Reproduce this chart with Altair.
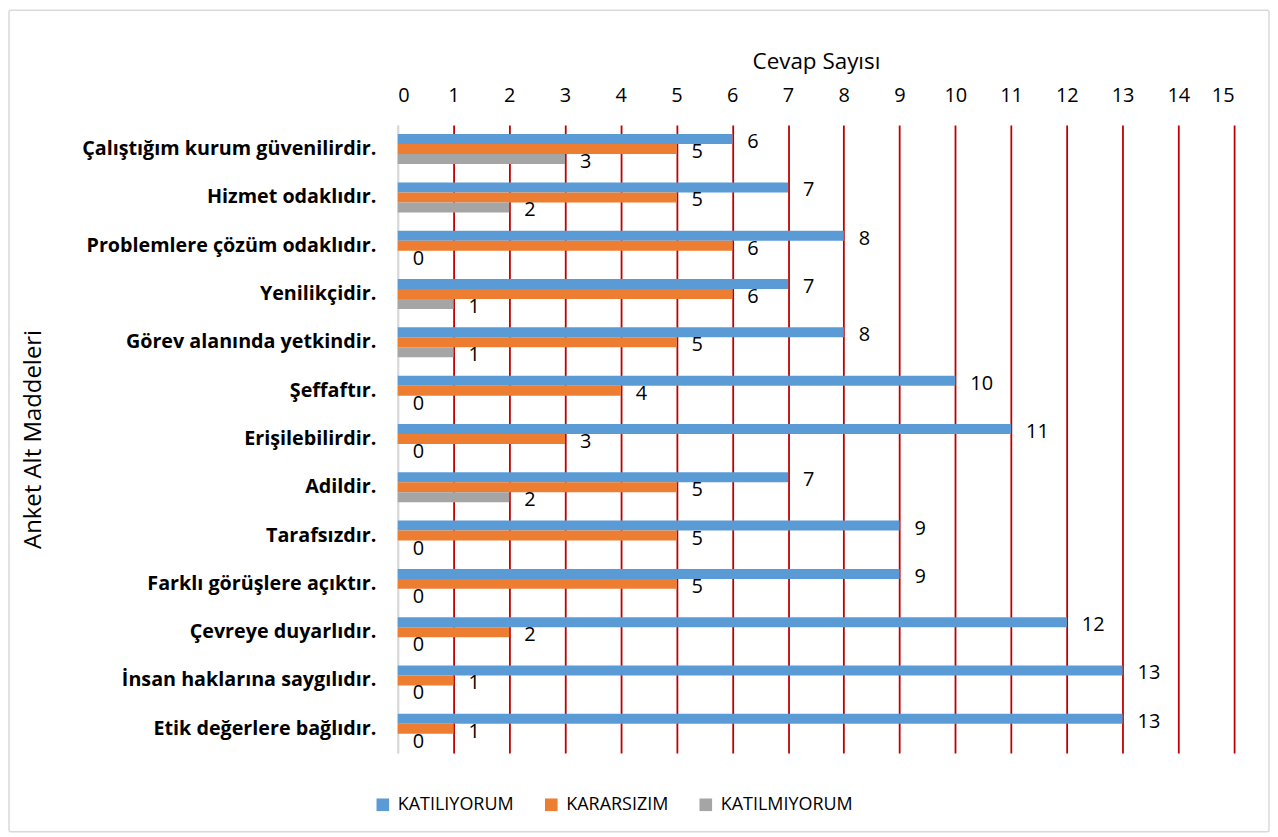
import altair as alt
import pandas as pd

categories = [
    "Çalıştığım kurum güvenilirdir.",
    "Hizmet odaklıdır.",
    "Problemlere çözüm odaklıdır.",
    "Yenilikçidir.",
    "Görev alanında yetkindir.",
    "Şeffaftır.",
    "Erişilebilirdir.",
    "Adildir.",
    "Tarafsızdır.",
    "Farklı görüşlere açıktır.",
    "Çevreye duyarlıdır.",
    "İnsan haklarına saygılıdır.",
    "Etik değerlere bağlıdır.",
]
katiliyorum = [6, 7, 8, 7, 8, 10, 11, 7, 9, 9, 12, 13, 13]
kararsizim = [5, 5, 6, 6, 5, 4, 3, 5, 5, 5, 2, 1, 1]
katilmiyorum = [3, 2, 0, 1, 1, 0, 0, 2, 0, 0, 0, 0, 0]
series = ["KATILIYORUM", "KARARSIZIM", "KATILMIYORUM"]
colors = ["#5B9BD5", "#ED7D31", "#A5A5A5"]

rows = []
for i, c in enumerate(categories):
    for s, vals in zip(series, [katiliyorum, kararsizim, katilmiyorum]):
        rows.append({"madde": c, "seri": s, "deger": vals[i]})
df = pd.DataFrame(rows)

FONT = "Open Sans"
W, H = 839, 630

y_enc = alt.Y(
    "madde:N",
    sort=categories,
    scale=alt.Scale(paddingInner=0.38, paddingOuter=0.19),
    axis=alt.Axis(
        title="Anket Alt Maddeleri",
        titleFont=FONT,
        titleFontSize=24,
        titleFontWeight="normal",
        titleColor="#000000",
        titleX=-353,
        labelFont=FONT,
        labelFontSize=19.8,
        labelFontWeight="bold",
        labelColor="#000000",
        labelPadding=22,
        labelLimit=400,
        ticks=False,
        domain=True,
        domainColor="#D9D9D9",
        domainWidth=2,
    ),
)
x_enc = alt.X(
    "deger:Q",
    scale=alt.Scale(domain=[0, 15], nice=False),
    axis=alt.Axis(
        orient="top",
        title="Cevap Sayısı",
        titleFont=FONT,
        titleFontSize=22.5,
        titleFontWeight="normal",
        titleColor="#000000",
        titlePadding=12,
        values=list(range(0, 16)),
        format="d",
        labelFont=FONT,
        labelFontSize=20,
        labelColor="#000000",
        labelPadding=20,
        ticks=False,
        domain=False,
        grid=True,
        gridColor={"condition": {"test": "datum.value === 0", "value": "#D9D9D9"}, "value": "#C00000"},
        gridWidth=1.8,
    ),
)
yoff = alt.YOffset("seri:N", sort=series)

bars = alt.Chart(df).mark_bar().encode(
    y=y_enc,
    x=x_enc,
    yOffset=yoff,
    color=alt.Color(
        "seri:N",
        sort=series,
        scale=alt.Scale(domain=series, range=colors),
        legend=alt.Legend(
            title=None,
            orient="none",
            direction="horizontal",
            legendX=-24,
            legendY=673,
            symbolType="square",
            symbolSize=160,
            symbolStrokeWidth=0,
            labelFont=FONT,
            labelFontSize=18,
            labelColor="#000000",
            columnPadding=28,
            labelOffset=6,
        ),
    ),
)

labels = alt.Chart(df).mark_text(
    align="left", baseline="middle", dx=15, dy=3, font=FONT, fontSize=20, color="#000000"
).encode(
    y=alt.Y("madde:N", sort=categories),
    x=alt.X("deger:Q"),
    yOffset=yoff,
    text=alt.Text("deger:Q"),
)

frame = alt.Chart(pd.DataFrame({"a": [0]})).mark_rect(
    fill=None, stroke="#D9D9D9", strokeWidth=1.5, cornerRadius=2
).encode(
    x=alt.value(-390), x2=alt.value(874), y=alt.value(-115), y2=alt.value(709)
)

chart = alt.layer(frame, bars, labels).properties(
    width=W, height=H, background="#FFFFFF", padding=0
).configure_view(stroke=None)

chart.save("out.html", embed_options={"renderer": "svg", "actions": False})
